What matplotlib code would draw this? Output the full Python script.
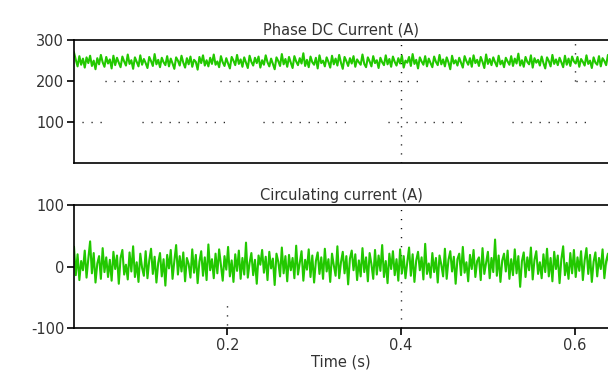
import numpy as np
import matplotlib
matplotlib.use("Agg")
import matplotlib.pyplot as plt

# time span shown on the x axis (s)
t_start, t_end = 0.0236, 0.638

# Phase DC current (A)
dc_current = [
    270, 252, 236, 261, 240, 255, 233, 258, 244, 262, 237, 250, 229, 256, 241, 264, 246, 235, 259, 243,
    253, 231, 262, 239, 257, 245, 234, 260, 248, 238, 265, 242, 251, 230, 258, 247, 236, 263, 240, 254,
    244, 232, 259, 249, 237, 266, 241, 252, 234, 257, 246, 239, 261, 236, 255, 243, 230, 258, 250, 238,
    262, 245, 233, 256, 241, 260, 235, 252, 247, 228, 259, 244, 263, 238, 251, 236, 257, 242, 265, 240,
    248, 234, 261, 246, 237, 256, 243, 231, 259, 250, 239, 264, 242, 253, 235, 258, 245, 232, 262, 247,
    238, 257, 244, 260, 233, 251, 240, 263, 246, 236, 255, 242, 229, 258, 249, 237, 266, 241, 254, 235,
    259, 245, 232, 261, 248, 239, 256, 243, 268, 237, 252, 234, 260, 246, 240, 257, 231, 263, 244, 250,
    236, 258, 247, 233, 262, 241, 255, 238, 264, 245, 230, 259, 249, 237, 256, 243, 261, 235, 253, 246,
    240, 265, 242, 234, 258, 248, 236, 261, 244, 251, 232, 257, 246, 239, 263, 241, 254, 235, 260, 247,
    238, 256, 243, 262, 233, 250, 245, 259, 237, 266, 242, 252, 231, 258, 248, 240, 261, 236, 255, 244,
    234, 260, 247, 239, 264, 241, 253, 236, 258, 246, 229, 262, 243, 251, 238, 257, 245, 233, 261, 249,
    240, 256, 235, 263, 244, 252, 237, 259, 247, 232, 265, 242, 254, 239, 258, 246, 236, 262, 241, 250,
    234, 257, 248, 240, 261, 237, 255, 243, 267, 238, 251, 235, 259, 247, 241, 263, 233, 256, 245, 252,
    238, 260, 244, 231, 258, 249, 236, 264, 242, 253, 239, 257, 246, 234, 262, 240, 255, 237, 260, 248,
    243, 259, 235, 254, 247, 238, 263, 242, 250, 232, 258, 245, 240, 261, 236, 256, 249, 239, 264, 251,
]

# Circulating current (A)
circ_current = [
    32, -14, 20, -22, 9, -6, 26, -18, 13, 41, -11, 22, -26, 5, 17, -20, 30, -9, 15, -17,
    11, -23, 24, -4, 18, -28, 14, 27, -13, 3, -21, 23, -8, 33, -17, 7, -25, 21, -2, -15,
    25, -19, 10, 29, -12, 16, -26, 6, 22, -16, 12, -31, 19, -3, 27, -20, 9, 35, -13, 17,
    -8, 23, -24, 14, 4, -18, 28, -10, 19, -27, 8, 25, -15, 15, -22, 36, -6, 12, -19, 21,
    -11, 28, 2, -23, 17, -5, 32, -16, 10, -25, 20, -7, 26, -20, 14, -13, 39, -18, 6, 22,
    -14, 11, -28, 18, 3, 27, -10, 16, -22, 24, -3, 13, -30, 21, 8, -16, 31, -11, 17, -24,
    19, -6, 14, -19, 34, -13, 6, 25, -23, 11, -5, 28, -17, 18, -26, 9, 23, -12, 15, -20,
    29, -8, 12, -25, 21, 2, -15, 33, -19, 7, 24, -11, 17, -29, 13, 26, -6, 20, -22, 10,
    -16, 30, -9, 15, -24, 22, 4, -20, 27, -13, 18, -7, 35, -17, 9, -27, 21, -4, 25, -14,
    12, -23, 28, -11, 17, -19, 7, 31, -15, 20, -25, 10, 24, -6, 15, -21, 37, -12, 5, -18,
    22, -9, 14, -26, 18, 3, -16, 29, -20, 11, 25, -8, 16, -28, 12, 21, -14, 32, -10, 7,
    -24, 19, -4, 27, -17, 9, 15, -22, 30, -12, 6, 24, -19, 14, -9, 44, -15, 18, -25, 10,
    21, -8, 26, -20, 12, -14, 28, -11, 17, -33, 9, 23, -17, 15, -6, 31, -21, 11, 25, -12,
    7, -19, 20, -9, 29, -16, 14, -24, 24, -4, 18, -27, 12, 33, -14, 6, -20, 22, -11, 27,
    -17, 15, -7, 25, -22, 10, 30, -12, 19, -25, 8, 23, -16, 14, -4, 28, -19, 9, 21, -11,
]

t = np.linspace(t_start, 0.64, len(dc_current))

green = "#22c800"
dot = (0, (0.8, 5.7))
txt = "#333333"

plt.rcParams["font.family"] = "DejaVu Sans"
plt.rcParams["axes.unicode_minus"] = False
fig = plt.figure(figsize=(6.08, 3.9), dpi=100)
ax1 = fig.add_axes([0.1217, 0.582, 0.8783, 0.315])
ax2 = fig.add_axes([0.1217, 0.159, 0.8783, 0.315])

# broken dotted grid like the original scope view
g200_a = [0.059, 0.192, 0.334, 0.477, 0.601]
g200_b = [0.146, 0.290, 0.420, 0.562, 0.64]
g100_a = [0.033, 0.102, 0.241, 0.385, 0.528]
g100_b = [0.056, 0.199, 0.340, 0.472, 0.615]
ax1.hlines([200] * len(g200_a), g200_a, g200_b, colors="k", lw=1, linestyles=dot)
ax1.hlines([100] * len(g100_a), g100_a, g100_b, colors="k", lw=1, linestyles=dot)
ax1.vlines(0.4, 0, 300, colors="k", lw=1, linestyles=dot)
ax1.vlines(0.6, 200, 300, colors="k", lw=1, linestyles=dot)
ax2.vlines(0.4, -100, 100, colors="k", lw=1, linestyles=dot)
ax2.vlines(0.2, -95, -60, colors="k", lw=1, linestyles=dot)

ax1.plot(t, dc_current, color=green, lw=1.5)
ax2.plot(t, circ_current, color=green, lw=1.5)

ax1.set_ylim(0, 300)
ax1.set_yticks([100, 200, 300])
ax1.set_xticks([])
ax2.set_ylim(-100, 100)
ax2.set_yticks([-100, 0, 100])
ax2.set_xticks([0.2, 0.4, 0.6])
ax2.set_xticklabels(["0.2", "0.4", "0.6"])

for ax in (ax1, ax2):
    ax.set_xlim(t_start, t_end)
    ax.spines["right"].set_visible(False)
    for s in ("left", "bottom", "top"):
        ax.spines[s].set_linewidth(1.2)
    ax.tick_params(direction="out", length=5, width=1.2, labelsize=10.5,
                   labelcolor=txt, pad=2)

ax1.set_title("Phase DC Current (A)", fontsize=10.5, color=txt, pad=4)
ax2.set_title("Circulating current (A)", fontsize=10.5, color=txt, pad=4)
ax2.set_xlabel("Time (s)", fontsize=10.5, color=txt, labelpad=1)

fig.savefig("out.png", dpi=100)
